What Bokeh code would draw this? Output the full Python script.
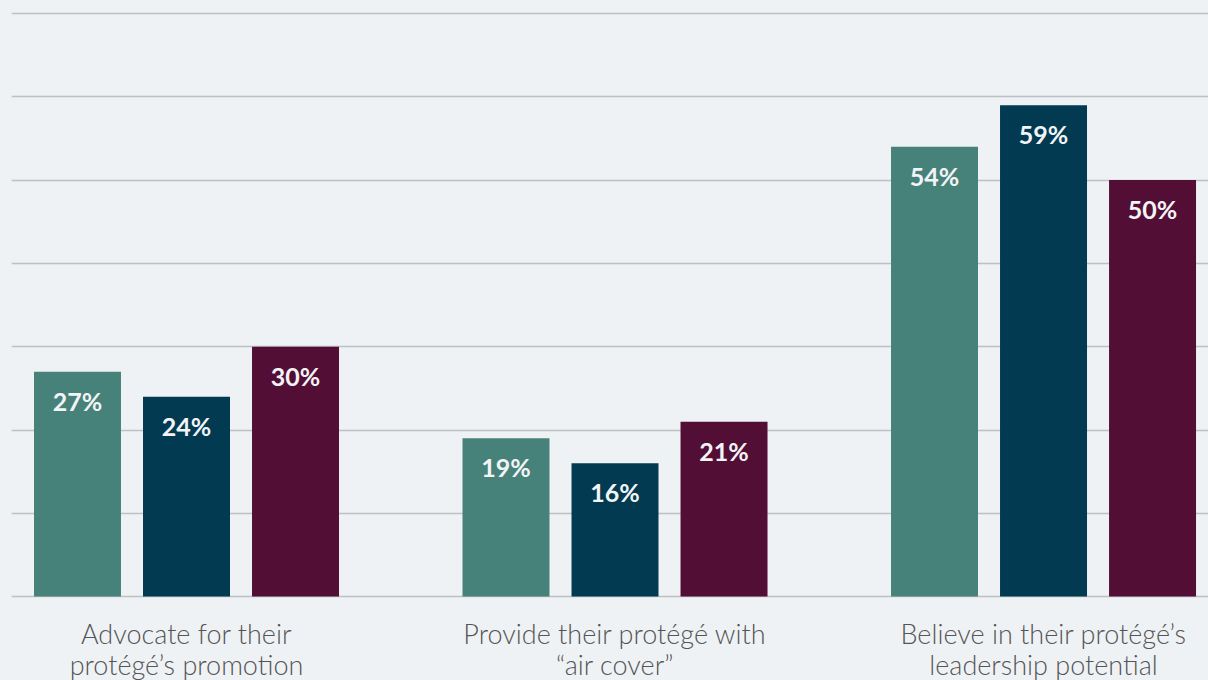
from bokeh.plotting import figure
from bokeh.models import ColumnDataSource, Range1d, Grid, FixedTicker
from bokeh.core.properties import value
from bokeh.embed import file_html
from bokeh.resources import INLINE

categories = ["Advocate for their\nprotégé’s promotion",
              "Provide their protégé with\n“air cover”",
              "Believe in their protégé’s\nleadership potential"]
series_a = [27, 19, 54]
series_b = [24, 16, 59]
series_c = [30, 21, 50]
grid_ticks = [0, 10, 20, 30, 40, 50, 60, 70]

colors = ["#47827a", "#023a52", "#520e35"]
BG = "#eef2f5"

p = figure(width=1208, height=680, output_backend="svg", toolbar_location=None,
           x_axis_location=None, y_axis_location=None,
           x_range=Range1d(-0.4084, 2.385), y_range=Range1d(-10.07, 71.56),
           min_border=0, min_border_left=11)
p.background_fill_color = BG
p.border_fill_color = BG
p.outline_line_color = None
p.grid.visible = False

p.add_layout(Grid(dimension=1, ticker=FixedTicker(ticks=grid_ticks),
                  grid_line_color="#bfc0c3", grid_line_width=1.5))

offsets = [-0.2544, 0.0, 0.2544]
width = 0.203
for series, off, col in zip([series_a, series_b, series_c], offsets, colors):
    xs = [i + off for i in range(len(categories))]
    src = ColumnDataSource(dict(x=xs, top=series, lab=[f"{v}%" for v in series]))
    p.vbar(x="x", top="top", bottom=0, width=width, source=src,
           fill_color=col, line_color=None)
    p.text(x="x", y="top", text="lab", source=src, y_offset=29,
           text_align="center", text_baseline="alphabetic",
           text_font=value("Lato"), text_font_style="bold",
           text_font_size="25px", text_color="#f2f4f6")

line1 = [c.split("\n")[0] for c in categories]
line2 = [c.split("\n")[1] for c in categories]
xs = list(range(len(categories)))
lsrc = ColumnDataSource(dict(x=xs, y=[0] * len(xs), l1=line1, l2=line2))
for col, off in (("l1", 37), ("l2", 68)):
    p.text(x="x", y="y", text=col, source=lsrc, y_offset=off,
           text_align="center", text_baseline="alphabetic",
           text_font=value("Lato Light"), text_font_size="27px",
           text_color="#555555")

html = file_html(p, INLINE)
html = html.replace("</head>", "<style>body{background:#eef2f5;}</style></head>")
open("out.html", "w").write(html)
